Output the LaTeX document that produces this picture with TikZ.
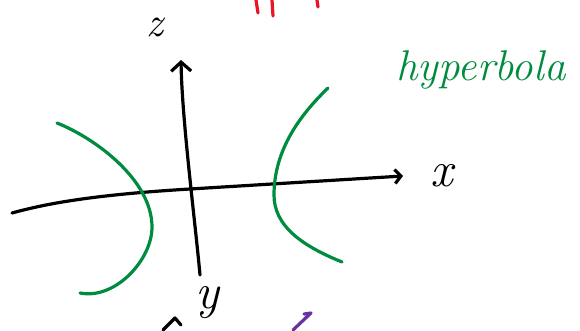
\documentclass[tikz,border=0pt]{standalone}
\usepackage{tikz}
\usetikzlibrary{arrows.meta}
\definecolor{hypgreen}{RGB}{0,140,62}
\definecolor{markred}{RGB}{232,20,40}
\definecolor{penpurple}{RGB}{102,51,160}
\tikzset{>={Straight Barb[length=9pt,width=20pt]}}
\tikzset{pen/.style={line width=3.2pt, line cap=round, line join=round}}
\tikzset{hand/.style={inner sep=0pt, font=\fontsize{#1}{#1}\selectfont\itshape}}

\begin{document}
\begin{tikzpicture}[x=1pt, y=-1pt, pen]
	\useasboundingbox (0,0) rectangle (580,330);

	% axes
	\draw[-{Straight Barb[length=6pt,width=14pt]}] (12,213) .. controls (45,204) and (90,195) .. (190,189) -- (403,176);
	\draw[->] (200,275) .. controls (195,220) and (182,120) .. (181,60);

	% the two branches
	\draw[hypgreen] (57,123) .. controls (95,138) and (152,180) .. (152,227) .. controls (152,260) and (115,300) .. (80,293);
	\draw[hypgreen] (328,88) .. controls (300,115) and (274,150) .. (274,195) .. controls (274,225) and (300,245) .. (342,262);

	% labels
	\node[hand=42] (zlabel) at (155,27) {z};
	\node[hand=50] (xlabel) at (442,176) {x};
	\node[hand=50] (ylabel) at (207,303) {y};
	\node[hand=43, text=hypgreen] (hyptext) at (481,70) {hyperbola};

	% strokes cut off at the edges
	\draw[markred] (256,0) -- (258,13);
	\draw[markred] (272,0) -- (273,16);
	\draw[markred] (317,0) -- (318,7);
	\draw[penpurple] (293,330) -- (311,313) -- (304,314);
	\draw (163,330) -- (175,318) -- (181,325);
\end{tikzpicture}
\end{document}
